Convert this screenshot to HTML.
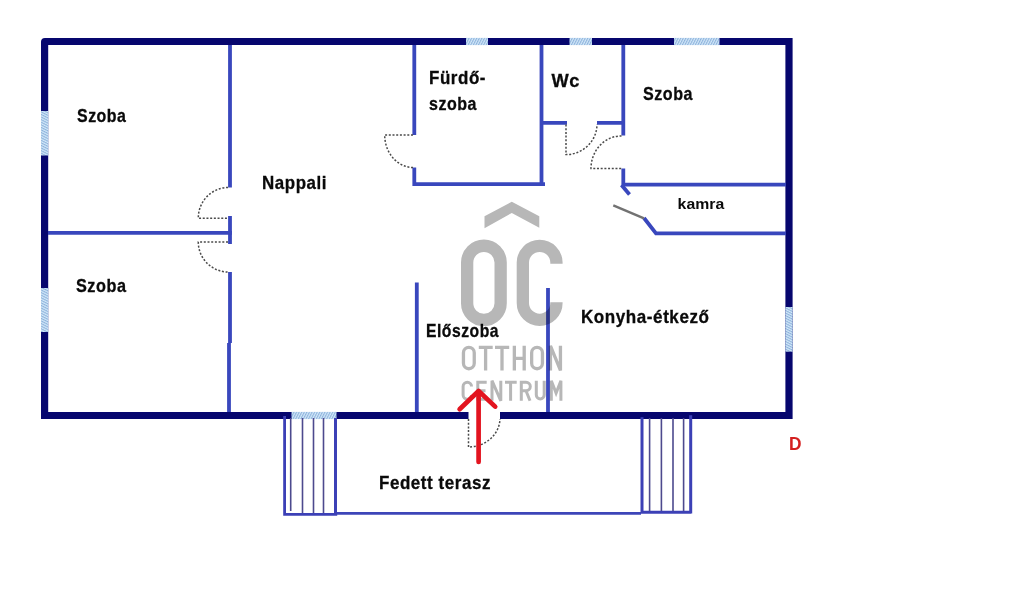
<!DOCTYPE html>
<html><head><meta charset="utf-8">
<style>
html,body{margin:0;padding:0;background:#fff;width:1024px;height:605px;overflow:hidden}
svg{display:block}
.t{font-family:"Liberation Sans",sans-serif;font-weight:bold;fill:#0a0a0a}
.ls{letter-spacing:0.6px;stroke:#0a0a0a;stroke-width:0.3px}
</style></head><body>
<svg width="1024" height="605" viewBox="0 0 1024 605">
<defs>
<pattern id="h" patternUnits="userSpaceOnUse" width="2.3" height="3" patternTransform="rotate(27)">
<rect width="2.3" height="3" fill="#d2e8f9"/><rect width="1.1" height="3" fill="#8fb3dc"/>
</pattern>
<pattern id="v" patternUnits="userSpaceOnUse" width="3" height="2.3" patternTransform="rotate(27)">
<rect width="3" height="2.3" fill="#d2e8f9"/><rect width="3" height="1.1" fill="#8fb3dc"/>
</pattern>
</defs>
<rect width="1024" height="605" fill="#fff"/>
<!-- outer walls -->
<path fill="#06066e" fill-rule="evenodd" d="M45 38H792.6V419H41V42A4 4 0 0 1 45 38ZM48.2 45.1V412H785.4V45.1Z"/>
<!-- windows -->
<g fill="url(#h)">
<rect x="466" y="37.9" width="22" height="7.2"/>
<rect x="569.5" y="37.9" width="22.5" height="7.2"/>
<rect x="674" y="37.9" width="45.5" height="7.2"/>
<rect x="41" y="111" width="7.2" height="44.5" fill="url(#v)"/>
<rect x="41" y="288" width="7.2" height="44" fill="url(#v)"/>
<rect x="785.4" y="307" width="7.2" height="44.7" fill="url(#v)"/>
<rect x="291.5" y="411.9" width="45" height="7.2"/>
</g>
<!-- entry gap -->
<rect x="468.5" y="411" width="31.5" height="9" fill="#fff"/>
<!-- interior walls -->
<g stroke="#3947bd" stroke-width="3.8" fill="none">
<path d="M230 45V187.5M230 216V244M230 272V343M229 343V412"/>
<path d="M48 232.8H231.9"/>
<path d="M414.3 45V135M414.3 167.5V184.2H545M541.5 45V186"/>
<path d="M540 122.8H567M597 122.8H625"/>
<path d="M623.3 45V135.4M623.3 168.5V184.7H786"/>
<path d="M621.5 185L629.5 194.5"/>
<path d="M644 218L656 233.3H786"/>
<path d="M416.8 282.5V412M548 288V412"/>
</g>
<!-- kamra door -->
<path d="M613.3 205.3L644 218.4" stroke="#727272" stroke-width="2.4" fill="none"/>
<!-- doors (dotted) -->
<g stroke="#4a4a4a" stroke-width="1.5" fill="none" stroke-dasharray="2 1.7">
<path d="M228 187.5A30 30.5 0 0 0 198.3 218.2H228"/>
<path d="M228 242H198.3A30 30 0 0 0 228 272"/>
<path d="M413 135H384.7A28.5 32.5 0 0 0 413 167.5"/>
<path d="M566 124.5V154.6A31 30.5 0 0 0 597 124.5"/>
<path d="M621.5 136A30 32.5 0 0 0 591 168.5H621.5"/>
<path d="M468.5 419V447A31.5 29 0 0 0 500 419"/>
</g>
<!-- terrace -->
<g stroke="#3c40b6" fill="none">
<path d="M284.6 416V514.3H337.2" stroke-width="2.8"/>
<path d="M335.5 418V514.3" stroke-width="3"/>
<path d="M337 513.3H641" stroke-width="2.8" stroke="#3d45b8"/>
<path d="M642 417.3V512.3H691M690.7 415.3V513.6" stroke-width="3"/>
<g stroke-width="1.6" stroke="#4d4a8e">
<path d="M290.7 418V511M302.5 418V513M313.5 418V513M323.5 418V513"/>
<path d="M649.6 418V511M661.4 418V511M673 418V511M683.6 418V511"/>
</g>
</g>
<!-- labels -->
<text class="t ls" x="77" y="121.7" font-size="18.2" textLength="49.5" lengthAdjust="spacingAndGlyphs">Szoba</text>
<text class="t ls" x="76" y="292" font-size="18.2" textLength="50.5" lengthAdjust="spacingAndGlyphs">Szoba</text>
<text class="t ls" x="262" y="188.7" font-size="18.2" textLength="65" lengthAdjust="spacingAndGlyphs">Nappali</text>
<text class="t ls" x="429" y="83.7" font-size="18.2" textLength="57" lengthAdjust="spacingAndGlyphs">Fürdő-</text>
<text class="t ls" x="429" y="109.5" font-size="18.2" textLength="48" lengthAdjust="spacingAndGlyphs">szoba</text>
<text class="t ls" x="551.5" y="87" font-size="18.2" textLength="28.5" lengthAdjust="spacingAndGlyphs">Wc</text>
<text class="t ls" x="643" y="99.6" font-size="18.2" textLength="50" lengthAdjust="spacingAndGlyphs">Szoba</text>
<text class="t" x="677.6" y="209" font-size="13.8" textLength="46.6" lengthAdjust="spacingAndGlyphs">kamra</text>
<text class="t ls" x="426" y="337.2" font-size="18.2" textLength="73" lengthAdjust="spacingAndGlyphs">Előszoba</text>
<text class="t ls" x="581" y="323.1" font-size="18.2" textLength="128.5" lengthAdjust="spacingAndGlyphs">Konyha-étkező</text>
<text class="t ls" x="379" y="488.9" font-size="18.2" textLength="112" lengthAdjust="spacingAndGlyphs">Fedett terasz</text>
<text class="t" x="789" y="449.8" font-size="18.2" fill="#d42020" style="fill:#d42020" textLength="12.5" lengthAdjust="spacingAndGlyphs">D</text>
<!-- watermark -->
<g style="mix-blend-mode:multiply">
<g fill="#b7b7b7" stroke="none">
<polygon points="484.5,216.3 511.8,201.8 539.3,216.3 539.3,227.8 511.8,213 484.5,228.2"/>
</g>
<g fill="none" stroke="#b7b7b7" stroke-width="12.3">
<rect x="467.15" y="245.75" width="33.5" height="74.2" rx="16.75"/>
<path d="M556.45 263.7V262.6A16.8 16.8 0 0 0 522.85 262.6L522.85 303.05A16.8 16.8 0 0 0 556.45 303.05V302.3"/>
</g>
<g fill="none" stroke="#b7b7b7" stroke-width="3.3">
<rect x="463.45" y="347.45" width="10.8" height="21.3" rx="5.4"/>
<path d="M478.8 347.45H492.7M485.6 345.8V370.4M495 347.45H509.2M502 345.8V370.4M514.35 345.8V370.4M524.2 345.8V370.4M514.35 358.4H524.2"/>
<rect x="531.65" y="347.45" width="10.8" height="21.3" rx="5.4"/>
<path d="M550.45 370.4V345.8L560.45 370.4V345.8"/>
</g>
<g fill="none" stroke="#b7b7b7" stroke-width="3">
<path d="M471.5 386.5A4.2 4.2 0 0 0 463.1 386.5V395A4.2 4.2 0 0 0 471.5 395"/>
<path d="M486.7 382.2H477.8V399.3H486.7M477.8 390.7H485.5"/>
<path d="M492 400.8V380.7L500.8 400.8V380.7"/>
<path d="M505 382.2H516.7M510.6 380.7V400.8"/>
<path d="M521.3 400.8V382.2H526A4.3 4.3 0 0 1 526 390.8H521.3M526 390.8L530 400.8"/>
<path d="M536.3 380.7V395A3.95 3.95 0 0 0 544.2 395V380.7"/>
<path d="M551.3 400.8V380.7L556.1 393L560.9 380.7V400.8"/>
</g>
</g>
<!-- arrow -->
<g stroke="#e3141f" stroke-width="4.7" fill="none" stroke-linecap="round" stroke-linejoin="round">
<path d="M478.6 392V462"/>
<path d="M459.6 409.2L478.6 391L495.2 406.6"/>
</g>
</svg>
</body></html>
